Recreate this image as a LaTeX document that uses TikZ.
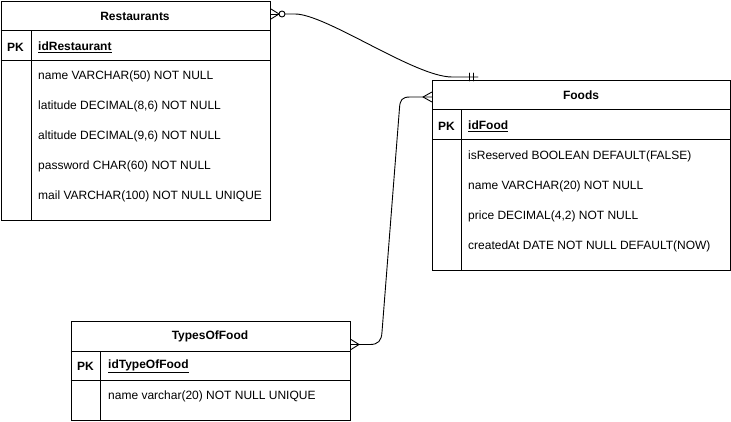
\documentclass[tikz,border=0pt]{standalone}
\usepackage{fontspec}
\setmainfont{Liberation Sans}
\usetikzlibrary{calc}
\begin{document}
\begin{tikzpicture}[x=1pt,y=-1pt,
  tbl/.style={draw, line width=1pt, anchor=north west, inner sep=0pt, fill=white},
  sep/.style={line width=1pt},
  conn/.style={line width=0.9pt, line cap=round, line join=round},
  ttl/.style={font=\fontsize{12}{14}\selectfont\bfseries, inner sep=0pt, anchor=center},
  pk/.style={font=\fontsize{12}{14}\selectfont\bfseries, inner sep=0pt, anchor=center, yshift=-1pt},
  key/.style={font=\fontsize{12}{14}\selectfont\bfseries, inner sep=0pt, anchor=west, yshift=-1pt},
  fld/.style={font=\fontsize{12}{14}\selectfont, inner sep=0pt, anchor=west, yshift=-1.5pt}]
\useasboundingbox (0,0) rectangle (731,422);
\fill[white] (0,0) rectangle (731,422);

% Restaurants
\node[tbl, minimum width=269.5pt, minimum height=219pt] (rest) at (0.5,1) {};
\draw[sep] (0.5,31) -- (270,31);
\draw[sep] (0.5,61) -- (270,61);
\draw[sep] (31,31) -- (31,220);
\node[ttl] (restT) at (135,16) {Restaurants};
\node[pk] (restPK) at (15.5,46) {PK};
\node[key] (restK) at (38,46) {\underline{idRestaurant}};
\node[fld] (r1) at (38,75) {name VARCHAR(50) NOT NULL};
\node[fld] (r2) at (38,105) {latitude DECIMAL(8,6) NOT NULL};
\node[fld] (r3) at (38,135) {altitude DECIMAL(9,6) NOT NULL};
\node[fld] (r4) at (38,165) {password CHAR(60) NOT NULL};
\node[fld] (r5) at (38,195) {mail VARCHAR(100) NOT NULL UNIQUE};

% Foods
\node[tbl, minimum width=298pt, minimum height=190pt] (food) at (432,80) {};
\draw[sep] (432,110) -- (730,110);
\draw[sep] (432,140) -- (730,140);
\draw[sep] (461,110) -- (461,270);
\node[ttl] (foodT) at (581,95) {Foods};
\node[pk] (foodPK) at (446.5,125) {PK};
\node[key] (foodK) at (468,125) {\underline{idFood}};
\node[fld] (f1) at (468,155) {isReserved BOOLEAN DEFAULT(FALSE)};
\node[fld] (f2) at (468,185) {name VARCHAR(20) NOT NULL};
\node[fld] (f3) at (468,215) {price DECIMAL(4,2) NOT NULL};
\node[fld] (f4) at (468,245) {createdAt DATE NOT NULL DEFAULT(NOW)};

% TypesOfFood
\node[tbl, minimum width=279.5pt, minimum height=99pt] (type) at (70.5,321) {};
\draw[sep] (70.5,351) -- (350,351);
\draw[sep] (70.5,380) -- (350,380);
\draw[sep] (100,351) -- (100,420);
\node[ttl] (typeT) at (210,336) {TypesOfFood};
\node[pk] (typePK) at (85.5,365.5) {PK};
\node[key] (typeK) at (108,365.5) {\underline{idTypeOfFood}};
\node[fld] (t1) at (108,395) {name varchar(20) NOT NULL UNIQUE};

% Connector Restaurants -> Foods (zero-or-many to exactly one)
\coordinate (e1) at (478,77);
\coordinate (rA) at ($(rest.north east)+(0,13)$);
\draw[conn] ($(rA)+(0,-5)$) -- ($(rA)+(8,0)$) -- ($(rA)+(0,5)$);
\draw[conn] (rA) -- ($(rA)+(8,0)$);
\draw[conn] ($(rA)+(11,0)$) circle (3);
\draw[conn] ($(rA)+(14,0)$) -- ($(rA)+(24,0)$)
  .. controls ($(rA)+(55,0)$) and (415,77) .. (452,77) -- (e1);
\draw[conn] (469,73) -- (469,81);
\draw[conn] (473,73) -- (473,81);

% Connector Foods -> TypesOfFood (many to many)
\coordinate (fA) at ($(food.north west)+(0,17)$);
\coordinate (tA) at ($(type.north east)+(0,23.5)$);
\draw[conn] ($(fA)+(0,-5)$) -- ($(fA)+(-9,0)$) -- ($(fA)+(0,5)$);
\draw[conn] (fA) -- ($(fA)+(-9,0)$) -- (410,97)
  .. controls (402,97) and (400,100) .. (399.5,108)
  -- (382,332) .. controls (381.5,341) and (378,344.5) .. (370,344.5)
  -- ($(tA)+(8,0)$) -- (tA);
\draw[conn] ($(tA)+(0,-5)$) -- ($(tA)+(8,0)$) -- ($(tA)+(0,5)$);
\end{tikzpicture}
\end{document}
